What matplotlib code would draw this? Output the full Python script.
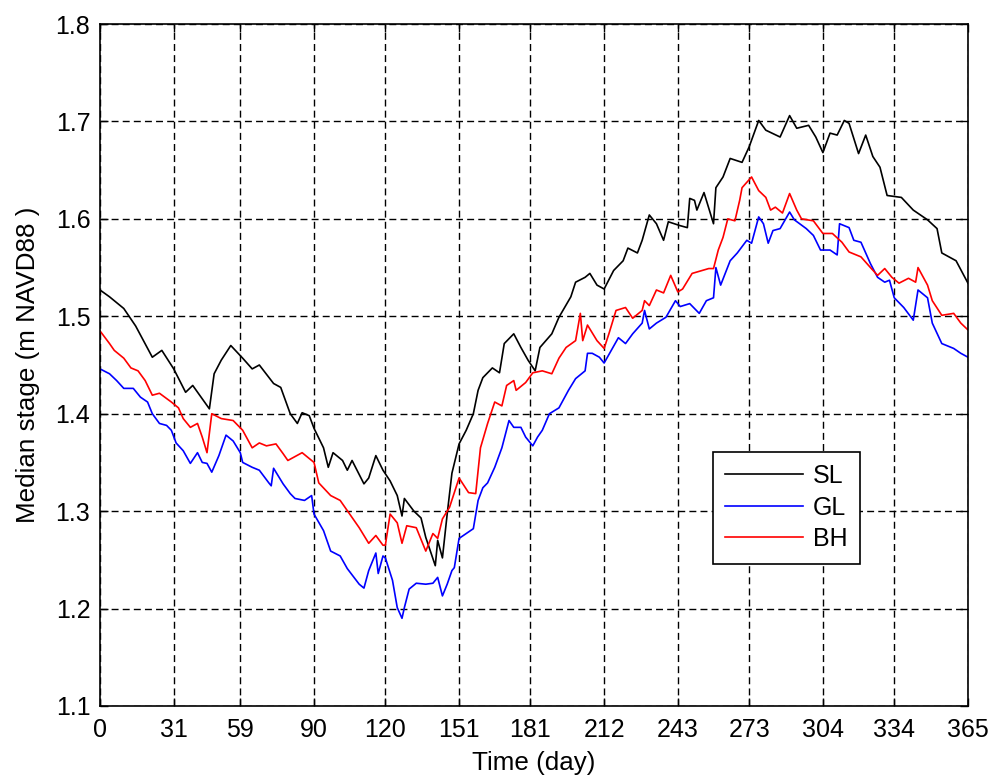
import matplotlib.pyplot as plt

# median stage per lake
sl_days = [0, 4, 10, 15, 22, 26, 31, 36, 39, 46, 48, 51, 55, 60, 64, 67, 73, 76, 80, 83,
           85, 88, 90, 94, 96, 98, 102, 104, 106, 111, 113, 116, 119, 122, 125, 127, 128,
           132, 135, 137, 141, 142, 144, 146, 148, 151, 154, 157, 159, 161, 165, 168, 170,
           174, 177, 180, 183, 185, 190, 193, 198, 200, 204, 206, 209, 212, 216, 220, 222,
           226, 228, 231, 234, 237, 239, 244, 247, 248, 250, 251, 254, 258, 259, 262, 265,
           270, 273, 277, 280, 286, 290, 293, 298, 301, 304, 307, 310, 313, 315, 319, 322,
           325, 328, 331, 337, 342, 348, 352, 354, 360, 365]
sl_vals = [1.527, 1.520, 1.508, 1.490, 1.458, 1.465, 1.446, 1.422, 1.429, 1.405, 1.441,
           1.455, 1.470, 1.457, 1.446, 1.450, 1.431, 1.427, 1.400, 1.390, 1.401, 1.398,
           1.385, 1.365, 1.345, 1.360, 1.352, 1.342, 1.352, 1.328, 1.334, 1.357, 1.342,
           1.331, 1.316, 1.295, 1.313, 1.300, 1.293, 1.273, 1.244, 1.270, 1.252, 1.297,
           1.339, 1.369, 1.383, 1.400, 1.424, 1.437, 1.447, 1.442, 1.472, 1.482, 1.468,
           1.455, 1.444, 1.468, 1.482, 1.499, 1.520, 1.535, 1.540, 1.544, 1.532, 1.528,
           1.547, 1.557, 1.570, 1.565, 1.578, 1.604, 1.595, 1.578, 1.597, 1.593, 1.591,
           1.621, 1.619, 1.609, 1.627, 1.595, 1.632, 1.643, 1.662, 1.658, 1.674, 1.701,
           1.691, 1.684, 1.706, 1.693, 1.696, 1.684, 1.668, 1.688, 1.686, 1.701, 1.698,
           1.667, 1.686, 1.664, 1.653, 1.624, 1.622, 1.609, 1.599, 1.590, 1.565, 1.557,
           1.534]

gl_days = [0, 4, 7, 10, 14, 17, 20, 22, 25, 28, 30, 32, 35, 38, 41, 43, 45, 47, 50, 53,
           56, 59, 60, 64, 67, 71, 72, 73, 77, 80, 82, 86, 89, 90, 94, 97, 101, 104, 109,
           111, 113, 116, 117, 119, 120, 123, 125, 127, 128, 130, 133, 137, 140, 142, 144,
           146, 148, 149, 151, 154, 157, 159, 161, 163, 166, 169, 172, 174, 177, 179, 182,
           184, 186, 189, 193, 197, 200, 204, 205, 207, 210, 212, 215, 218, 221, 224, 228,
           229, 231, 234, 238, 242, 244, 248, 252, 255, 258, 259, 261, 265, 268, 272, 274,
           277, 279, 281, 283, 286, 290, 292, 297, 300, 303, 307, 310, 311, 315, 317, 320,
           324, 327, 330, 332, 334, 338, 342, 344, 348, 350, 354, 359, 362, 365]
gl_vals = [1.446, 1.441, 1.434, 1.426, 1.426, 1.417, 1.412, 1.400, 1.390, 1.388, 1.383,
           1.370, 1.362, 1.349, 1.360, 1.350, 1.349, 1.340, 1.357, 1.378, 1.372, 1.360,
           1.350, 1.345, 1.342, 1.329, 1.326, 1.344, 1.328, 1.318, 1.313, 1.311, 1.316,
           1.297, 1.280, 1.259, 1.254, 1.241, 1.225, 1.221, 1.239, 1.257, 1.236, 1.254,
           1.252, 1.229, 1.201, 1.190, 1.201, 1.220, 1.226, 1.225, 1.226, 1.232, 1.213,
           1.225, 1.239, 1.242, 1.272, 1.277, 1.282, 1.311, 1.324, 1.329, 1.345, 1.365,
           1.393, 1.386, 1.386, 1.376, 1.367, 1.376, 1.383, 1.400, 1.406, 1.424, 1.436,
           1.444, 1.462, 1.462, 1.458, 1.452, 1.465, 1.478, 1.472, 1.482, 1.493, 1.506,
           1.487, 1.493, 1.499, 1.516, 1.510, 1.513, 1.503, 1.516, 1.519, 1.550, 1.532,
           1.557, 1.565, 1.578, 1.575, 1.602, 1.595, 1.575, 1.588, 1.590, 1.607, 1.599,
           1.590, 1.583, 1.568, 1.568, 1.563, 1.595, 1.591, 1.578, 1.576, 1.554, 1.540,
           1.535, 1.537, 1.519, 1.509, 1.496, 1.527, 1.519, 1.493, 1.472, 1.467, 1.462,
           1.458]

bh_days = [0, 4, 6, 10, 13, 16, 19, 22, 25, 30, 33, 35, 38, 41, 43, 45, 47, 51, 56, 60,
           64, 67, 70, 74, 77, 79, 85, 90, 92, 97, 101, 105, 109, 113, 116, 119, 120, 122,
           125, 127, 129, 133, 137, 140, 142, 144, 147, 151, 155, 158, 160, 163, 166, 169,
           171, 174, 175, 179, 182, 186, 190, 193, 196, 200, 202, 203, 205, 209, 212, 214,
           217, 221, 224, 228, 229, 231, 234, 237, 240, 243, 245, 249, 256, 258, 260, 262,
           264, 267, 269, 270, 274, 277, 280, 282, 284, 287, 290, 293, 295, 300, 304, 308,
           312, 315, 320, 324, 327, 330, 333, 336, 340, 343, 344, 348, 350, 354, 359, 362,
           365]
bh_vals = [1.485, 1.472, 1.465, 1.457, 1.447, 1.444, 1.434, 1.419, 1.421, 1.412, 1.406,
           1.395, 1.386, 1.390, 1.376, 1.360, 1.400, 1.395, 1.393, 1.383, 1.365, 1.370,
           1.367, 1.369, 1.359, 1.352, 1.360, 1.350, 1.329, 1.316, 1.311, 1.297, 1.283,
           1.267, 1.275, 1.265, 1.265, 1.297, 1.288, 1.267, 1.285, 1.283, 1.259, 1.277,
           1.272, 1.292, 1.304, 1.334, 1.319, 1.318, 1.365, 1.390, 1.412, 1.408, 1.429,
           1.434, 1.424, 1.432, 1.442, 1.444, 1.441, 1.457, 1.468, 1.475, 1.503, 1.475,
           1.491, 1.475, 1.467, 1.482, 1.506, 1.509, 1.498, 1.506, 1.516, 1.511, 1.527,
           1.524, 1.542, 1.525, 1.528, 1.544, 1.549, 1.549, 1.568, 1.581, 1.600, 1.598,
           1.619, 1.632, 1.643, 1.629, 1.622, 1.609, 1.612, 1.606, 1.626, 1.609, 1.600,
           1.598, 1.585, 1.585, 1.576, 1.566, 1.561, 1.550, 1.542, 1.549, 1.540, 1.534,
           1.539, 1.535, 1.550, 1.532, 1.516, 1.501, 1.503, 1.493, 1.486]

x_ticks = [0, 31, 59, 90, 120, 151, 181, 212, 243, 273, 304, 334, 365]
y_ticks = [1.1, 1.2, 1.3, 1.4, 1.5, 1.6, 1.7, 1.8]

plt.rcParams['font.family'] = ['Liberation Sans', 'DejaVu Sans']
plt.rcParams['font.size'] = 18

fig = plt.figure(figsize=(9.94, 7.82), dpi=100)
ax = fig.add_axes([0.1006, 0.0972, 0.8732, 0.8721])

ax.plot(sl_days, sl_vals, color='black', lw=1.2, label='SL')
ax.plot(gl_days, gl_vals, color='#0000ff', lw=1.2, label='GL')
ax.plot(bh_days, bh_vals, color='#ff0000', lw=1.2, label='BH')

ax.set_xlim(0, 365)
ax.set_ylim(1.1, 1.8)
ax.set_xticks(x_ticks)
ax.set_yticks(y_ticks)
ax.set_yticklabels([f'{v:.1f}' for v in y_ticks])
ax.tick_params(direction='in', length=6, width=1, top=True, right=True, labelsize=18)
ax.tick_params(axis='x', pad=9)
ax.tick_params(axis='y', pad=7)
ax.grid(True, color='black', linestyle=(0, (5, 3)), linewidth=1)
for s in ax.spines.values():
    s.set_linewidth(1.2)

ax.set_xlabel('Time (day)', fontsize=18.7, labelpad=6)
ax.set_ylabel('Median stage (m NAVD88 )', fontsize=18.7, labelpad=11)

leg = ax.legend(loc='upper left', bbox_to_anchor=(0.706, 0.373), fancybox=False,
                framealpha=1, edgecolor='black', handlelength=3.1, labelspacing=0.3,
                borderpad=0.5, handletextpad=0.4, borderaxespad=0, fontsize=18)
leg.get_frame().set_linewidth(1.2)

fig.savefig('out.png', dpi=100)
